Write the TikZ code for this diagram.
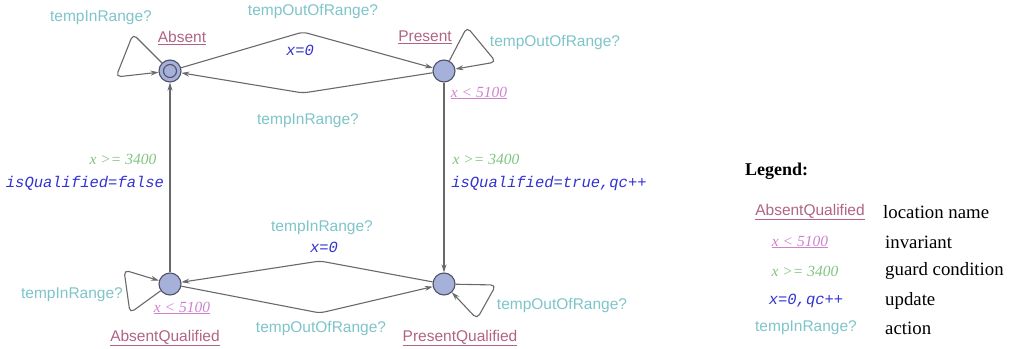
\documentclass[tikz,border=0pt]{standalone}
\usepackage{fontspec}
\setmainfont{Liberation Serif}
\setsansfont{Liberation Sans}
\setmonofont{Liberation Mono}
\usetikzlibrary{arrows.meta}
\definecolor{actcol}{RGB}{126,196,201}
\definecolor{namecol}{RGB}{176,100,132}
\definecolor{invcol}{RGB}{206,130,206}
\definecolor{guardcol}{RGB}{128,196,128}
\definecolor{updcol}{RGB}{50,50,210}
\definecolor{locfill}{RGB}{166,177,218}
\definecolor{locborder}{RGB}{80,82,105}
\definecolor{edgecol}{RGB}{105,105,105}
\begin{document}
\begin{tikzpicture}[x=1pt,y=-1pt,
  loc/.style={circle, draw=locborder, fill=locfill, minimum size=22pt, inner sep=0pt, line width=1.1pt},
  edge/.style={draw=edgecol, line width=1.1pt, -{Stealth[length=8pt,width=5pt]}, rounded corners=5pt},
  act/.style={text=actcol, font=\sffamily\fontsize{15.5}{18}\selectfont, inner sep=0pt},
  lname/.style={text=namecol, font=\sffamily\fontsize{15.5}{18}\selectfont, inner sep=0pt},
  inv/.style={text=invcol, font=\rmfamily\itshape\fontsize{15.5}{18}\selectfont, inner sep=0pt},
  guard/.style={text=guardcol, font=\rmfamily\itshape\fontsize{15.5}{18}\selectfont, inner sep=0pt},
  upd/.style={text=updcol, font=\ttfamily\itshape\fontsize{15.5}{18}\selectfont, inner sep=0pt},
  leg/.style={font=\rmfamily\fontsize{18.8}{21}\selectfont, inner sep=0pt, anchor=west}
]
\useasboundingbox (0,0) rectangle (1009,348);

% locations
\node[loc] (A) at (170,71) {};
\draw[locborder, line width=1.1pt] (A.center) circle (6.5pt);
\node[loc] (P) at (444,71) {};
\node[loc] (AQ) at (170,284) {};
\node[loc] (PQ) at (444,284) {};

% bend coordinates
\coordinate (t1) at (303,32);
\coordinate (t2) at (303,93);
\coordinate (b1) at (320,261);
\coordinate (b2) at (320,313);
\coordinate (la1) at (133,34);
\coordinate (la2) at (116,77);
\coordinate (lp1) at (467,27);
\coordinate (lp2) at (496,62);
\coordinate (laq1) at (130,313);
\coordinate (laq2) at (124,270);
\coordinate (lpq1) at (496,285);
\coordinate (lpq2) at (477,319);

% edges
\draw[edge] (A) -- (t1) -- (P);
\draw[edge] (P) -- (t2) -- (A);
\draw[edge] (A) -- (la1) -- (la2) -- (A);
\draw[edge] (P) -- (lp1) -- (lp2) -- (P);
\draw[edge] (AQ) -- (A);
\draw[edge] (P) -- (PQ);
\draw[edge] (PQ) -- (b1) -- (AQ);
\draw[edge] (AQ) -- (b2) -- (PQ);
\draw[edge] (AQ) -- (laq1) -- (laq2) -- (AQ);
\draw[edge] (PQ) -- (lpq1) -- (lpq2) -- (PQ);

% labels
\node[lname] (nA) at (182,38) {\underline{Absent}};
\node[lname] (nP) at (425,37) {\underline{Present}};
\node[lname] (nAQ) at (165,338) {\underline{AbsentQualified}};
\node[lname] (nPQ) at (460,338) {\underline{PresentQualified}};

\node[act] (a1) at (101,18) {tempInRange?};
\node[act] (a2) at (313,11) {tempOutOfRange?};
\node[upd] (u1) at (300,50) {x=0};
\node[act] (a3) at (555,42) {tempOutOfRange?};
\node[inv] (i1) at (479,93) {\underline{x < 5100}};
\node[act] (a4) at (308,121) {tempInRange?};

\node[guard] (g1) at (123,159) {x >= 3400};
\node[upd] (u2) at (85,183) {isQualified=false};
\node[guard] (g2) at (486,159) {x >= 3400};
\node[upd] (u3) at (549,183) {isQualified=true,qc++};

\node[act] (a5) at (322,228) {tempInRange?};
\node[upd] (u4) at (324,247) {x=0};
\node[act] (a6) at (72,295) {tempInRange?};
\node[inv] (i2) at (182,308) {\underline{x < 5100}};
\node[act] (a7) at (321,328) {tempOutOfRange?};
\node[act] (a8) at (562,305) {tempOutOfRange?};

% legend
\node[leg, font=\rmfamily\bfseries\fontsize{18}{21}\selectfont] (lt) at (745,171) {Legend:};
\node[lname] (le1) at (810,212) {\underline{AbsentQualified}};
\node[leg] (ld1) at (883,212) {location name};
\node[inv] (le2) at (800,242) {\underline{x < 5100}};
\node[leg] (ld2) at (885,242) {invariant};
\node[guard] (le3) at (805,271) {x >= 3400};
\node[leg] (ld3) at (885,271) {guard condition};
\node[upd] (le4) at (806,301) {x=0,qc++};
\node[leg] (ld4) at (885,301) {update};
\node[act] (le5) at (806,328) {tempInRange?};
\node[leg] (ld5) at (885,328) {action};
\end{tikzpicture}
\end{document}
